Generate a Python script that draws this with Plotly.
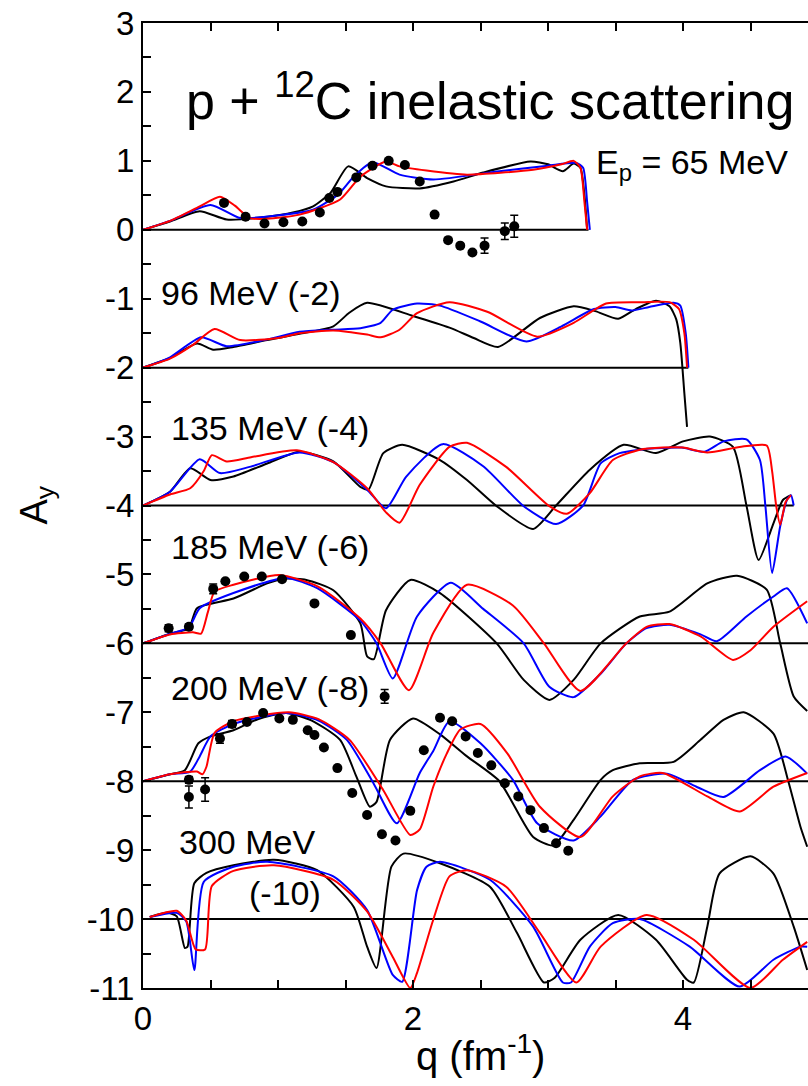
import plotly.graph_objects as go

# ---------------- data (values as plotted, including the offsets) ----------------
# 65 MeV (offset 0)
q65_k = [0, 0.2, 0.42, 0.62, 0.92, 1.11, 1.26, 1.39, 1.52, 1.66, 1.80, 2.05, 2.30, 2.52, 2.87, 3.00, 3.11, 3.19, 3.24, 3.27, 3.29]
a65_k = [0, 0.12, 0.27, 0.15, 0.19, 0.25, 0.34, 0.54, 0.92, 0.75, 0.63, 0.60, 0.70, 0.83, 0.99, 0.95, 0.85, 0.96, 0.90, 0.50, 0]
q65_b = [0, 0.2, 0.50, 0.72, 1.00, 1.26, 1.45, 1.56, 1.70, 1.90, 2.15, 2.64, 3.00, 3.21, 3.26, 3.29, 3.31]
a65_b = [0, 0.13, 0.36, 0.17, 0.21, 0.29, 0.52, 0.77, 0.98, 0.80, 0.73, 0.85, 0.93, 0.97, 0.90, 0.40, 0]
q65_r = [0, 0.2, 0.42, 0.57, 0.68, 0.79, 0.92, 1.16, 1.46, 1.61, 1.80, 1.90, 2.10, 2.40, 2.89, 3.10, 3.19, 3.24, 3.27, 3.29]
a65_r = [0, 0.13, 0.34, 0.48, 0.35, 0.17, 0.16, 0.22, 0.44, 0.77, 0.99, 0.92, 0.86, 0.80, 0.87, 0.95, 1.00, 0.90, 0.40, 0]
q65_d = [0.60, 0.76, 0.90, 1.04, 1.18, 1.31, 1.38, 1.44, 1.58, 1.70, 1.82, 1.94, 2.05, 2.16, 2.26, 2.35, 2.44, 2.53, 2.68, 2.75]
a65_d = [0.39, 0.19, 0.09, 0.11, 0.12, 0.25, 0.46, 0.55, 0.76, 0.93, 1.00, 0.94, 0.70, 0.22, -0.15, -0.23, -0.33, -0.23, -0.02, 0.05]
e65_d = [0, 0, 0, 0, 0, 0, 0, 0, 0, 0, 0, 0, 0, 0, 0, 0, 0, 0.11, 0.12, 0.16]

# 96 MeV (offset -2)
q96_k = [0, 0.2, 0.40, 0.52, 0.67, 0.92, 1.16, 1.41, 1.53, 1.66, 2.00, 2.27, 2.45, 2.63, 2.94, 3.19, 3.35, 3.52, 3.65, 3.80, 3.90, 3.95, 3.98, 4.01, 4.03]
a96_k = [-2, -1.86, -1.65, -1.74, -1.70, -1.60, -1.51, -1.40, -1.20, -1.06, -1.25, -1.42, -1.57, -1.70, -1.28, -1.11, -1.18, -1.29, -1.15, -1.03, -1.11, -1.30, -1.64, -2.37, -2.86]
q96_b = [0, 0.2, 0.43, 0.62, 0.90, 1.16, 1.40, 1.61, 1.76, 1.85, 2.03, 2.20, 2.50, 2.84, 3.10, 3.34, 3.50, 3.62, 3.75, 3.93, 3.98, 4.02, 4.04]
a96_b = [-2, -1.85, -1.56, -1.69, -1.60, -1.48, -1.45, -1.43, -1.35, -1.16, -1.07, -1.10, -1.33, -1.62, -1.40, -1.15, -1.12, -1.17, -1.12, -1.06, -1.10, -1.50, -2.0]
q96_r = [0, 0.2, 0.37, 0.53, 0.72, 1.00, 1.16, 1.41, 1.66, 1.76, 1.90, 2.03, 2.27, 2.55, 2.92, 3.19, 3.43, 3.70, 3.90, 3.97, 4.01, 4.03]
a96_r = [-2, -1.87, -1.67, -1.44, -1.60, -1.57, -1.50, -1.46, -1.52, -1.56, -1.45, -1.21, -1.05, -1.19, -1.55, -1.35, -1.07, -1.05, -1.05, -1.15, -1.50, -2.0]

# 135 MeV (offset -4)
q135_k = [0, 0.2, 0.35, 0.50, 0.67, 0.92, 1.16, 1.41, 1.61, 1.67, 1.78, 1.92, 2.20, 2.40, 2.62, 2.89, 3.06, 3.31, 3.56, 3.80, 4.00, 4.20, 4.37, 4.47, 4.56, 4.67, 4.74, 4.80]
a135_k = [-4, -3.80, -3.46, -3.63, -3.58, -3.39, -3.22, -3.36, -3.73, -3.77, -3.24, -3.12, -3.34, -3.63, -4.01, -4.34, -4.0, -3.48, -3.12, -3.24, -3.07, -3.0, -3.15, -4.0, -4.79, -4.26, -3.92, -3.85]
q135_b = [0, 0.2, 0.42, 0.57, 0.79, 1.16, 1.41, 1.66, 1.80, 1.95, 2.22, 2.52, 2.82, 3.06, 3.26, 3.39, 3.53, 3.68, 3.80, 3.99, 4.16, 4.30, 4.47, 4.57, 4.61, 4.66, 4.72, 4.77, 4.80, 4.82]
a135_b = [-4, -3.80, -3.33, -3.53, -3.44, -3.23, -3.37, -3.77, -4.04, -3.58, -3.11, -3.43, -4.01, -4.27, -4.0, -3.39, -3.24, -3.19, -3.17, -3.16, -3.22, -3.07, -3.04, -3.34, -4.0, -4.98, -4.30, -3.92, -3.85, -4.0]
q135_r = [0, 0.2, 0.35, 0.45, 0.51, 0.62, 0.80, 1.14, 1.41, 1.66, 1.80, 1.90, 2.05, 2.27, 2.40, 2.69, 3.01, 3.14, 3.31, 3.48, 3.68, 3.85, 4.00, 4.18, 4.42, 4.62, 4.66, 4.69, 4.72, 4.76, 4.80]
a135_r = [-4, -3.84, -3.75, -3.50, -3.27, -3.36, -3.30, -3.20, -3.37, -3.75, -4.10, -4.25, -3.70, -3.15, -3.09, -3.44, -4.01, -4.12, -3.82, -3.34, -3.19, -3.16, -3.16, -3.23, -3.15, -3.13, -3.50, -4.0, -4.28, -3.95, -3.85]

# 185 MeV (offset -6)
q185_k = [0, 0.2, 0.34, 0.40, 0.67, 0.92, 1.06, 1.21, 1.41, 1.61, 1.66, 1.71, 1.80, 1.98, 2.20, 2.62, 2.82, 3.01, 3.19, 3.39, 3.68, 3.90, 4.18, 4.40, 4.62, 4.72, 4.82, 4.92]
a185_k = [-6, -5.86, -5.78, -5.49, -5.35, -5.13, -5.06, -5.08, -5.23, -5.71, -6.19, -6.23, -5.52, -5.08, -5.27, -6.0, -6.53, -6.82, -6.53, -6.0, -5.61, -5.54, -5.13, -5.02, -5.22, -6.0, -6.77, -6.98]
q185_b = [0, 0.2, 0.34, 0.42, 0.67, 1.06, 1.29, 1.61, 1.73, 1.85, 2.03, 2.28, 2.52, 2.82, 3.01, 3.19, 3.39, 3.58, 3.73, 3.90, 4.13, 4.25, 4.47, 4.67, 4.77, 4.92]
a185_b = [-6, -5.86, -5.77, -5.49, -5.27, -5.05, -5.20, -5.67, -6.0, -6.51, -5.61, -5.12, -5.50, -6.0, -6.63, -6.78, -6.44, -6.0, -5.78, -5.73, -5.87, -5.97, -5.61, -5.32, -5.20, -5.71]
q185_r = [0, 0.2, 0.37, 0.43, 0.48, 0.53, 0.67, 1.01, 1.30, 1.61, 1.76, 1.97, 2.15, 2.40, 2.74, 2.97, 3.24, 3.58, 3.73, 3.90, 4.13, 4.37, 4.50, 4.67, 4.92]
a185_r = [-6, -5.87, -5.84, -5.86, -5.55, -5.25, -5.15, -5.01, -5.18, -5.64, -6.0, -6.68, -5.85, -5.15, -5.45, -6.0, -6.69, -6.0, -5.76, -5.72, -5.90, -6.24, -6.10, -5.76, -5.39]
q185_d = [0.19, 0.34, 0.52, 0.61, 0.75, 0.88, 1.03, 1.27, 1.54, 1.79]
a185_d = [-5.78, -5.76, -5.21, -5.10, -5.03, -5.03, -5.07, -5.42, -5.88, -6.77]
e185_d = [0.05, 0.04, 0.07, 0, 0, 0, 0, 0, 0, 0.10]

# 200 MeV (offset -8)
q200_k = [0, 0.2, 0.31, 0.41, 0.50, 0.67, 0.85, 1.06, 1.25, 1.46, 1.58, 1.68, 1.73, 1.83, 2.00, 2.20, 2.40, 2.64, 2.89, 3.04, 3.19, 3.39, 3.48, 3.68, 3.93, 4.13, 4.30, 4.45, 4.67, 4.78, 4.87, 4.92]
a200_k = [-8, -7.90, -7.84, -7.45, -7.35, -7.26, -7.10, -7.01, -7.12, -7.40, -7.93, -8.37, -8.30, -7.40, -7.09, -7.32, -7.64, -8.0, -8.81, -8.93, -8.56, -7.98, -7.84, -7.74, -7.72, -7.40, -7.11, -7.0, -7.31, -8.0, -8.66, -8.95]
q200_b = [0, 0.2, 0.35, 0.42, 0.50, 0.67, 1.06, 1.30, 1.51, 1.71, 1.88, 2.05, 2.15, 2.27, 2.50, 2.74, 2.92, 3.19, 3.39, 3.63, 3.88, 4.10, 4.30, 4.57, 4.76, 4.92]
a200_b = [-8, -7.90, -7.86, -7.64, -7.35, -7.17, -7.01, -7.12, -7.40, -8.04, -8.61, -7.88, -7.56, -7.13, -7.45, -7.98, -8.61, -8.86, -8.51, -7.98, -7.89, -8.08, -8.23, -7.84, -7.64, -7.89]
q200_r = [0, 0.2, 0.40, 0.44, 0.47, 0.53, 0.67, 1.08, 1.30, 1.53, 1.78, 1.98, 2.05, 2.15, 2.25, 2.35, 2.50, 2.70, 2.94, 3.24, 3.48, 3.68, 3.85, 4.18, 4.42, 4.67, 4.92]
a200_r = [-8, -7.90, -7.86, -7.90, -7.79, -7.30, -7.13, -7.0, -7.10, -7.40, -8.13, -8.78, -8.70, -8.08, -7.60, -7.25, -7.17, -7.60, -8.37, -8.81, -8.22, -7.93, -7.88, -8.22, -8.44, -8.08, -7.88]
q200_d = [0.34, 0.34, 0.46, 0.57, 0.66, 0.77, 0.89, 1.01, 1.11, 1.22, 1.27, 1.34, 1.44, 1.55, 1.66, 1.77, 1.87, 1.98, 2.08, 2.20, 2.29, 2.39, 2.48, 2.58, 2.68, 2.78, 2.87, 2.97, 3.06, 3.15]
a200_d = [-7.98, -8.23, -8.12, -7.38, -7.17, -7.14, -7.01, -7.09, -7.11, -7.26, -7.33, -7.51, -7.81, -8.17, -8.49, -8.77, -8.86, -8.43, -7.55, -7.08, -7.13, -7.35, -7.59, -7.77, -8.03, -8.22, -8.42, -8.68, -8.90, -9.01]
e200_d = [0.05, 0.16, 0.17, 0.07, 0.05] + [0] * 25

# 300 MeV (offset -10)
q300_k = [0.05, 0.18, 0.25, 0.31, 0.33, 0.38, 0.47, 0.67, 0.97, 1.29, 1.56, 1.66, 1.73, 1.84, 1.93, 2.20, 2.57, 2.77, 2.97, 3.05, 3.24, 3.52, 3.80, 4.03, 4.08, 4.18, 4.27, 4.50, 4.67, 4.82, 4.92]
a300_k = [-9.97, -9.91, -9.96, -10.42, -10.40, -9.48, -9.33, -9.22, -9.14, -9.29, -9.82, -10.40, -10.71, -9.24, -9.05, -9.19, -9.53, -10.20, -10.92, -10.85, -10.30, -9.94, -10.30, -10.88, -10.92, -10.11, -9.34, -9.09, -9.34, -10.11, -10.74]
q300_b = [0.05, 0.25, 0.32, 0.38, 0.45, 0.67, 0.92, 1.41, 1.66, 1.85, 1.92, 2.03, 2.10, 2.20, 2.57, 2.89, 3.11, 3.17, 3.31, 3.48, 3.68, 4.05, 4.42, 4.67, 4.87, 4.92]
a300_b = [-9.97, -9.91, -10.03, -10.74, -9.46, -9.24, -9.17, -9.38, -9.87, -10.81, -10.91, -9.58, -9.24, -9.17, -9.43, -10.11, -10.92, -10.92, -10.40, -10.06, -10.0, -10.40, -10.98, -10.59, -10.40, -10.40]
q300_r = [0.05, 0.25, 0.32, 0.39, 0.46, 0.51, 0.67, 0.97, 1.41, 1.66, 1.85, 1.98, 2.03, 2.15, 2.27, 2.40, 2.69, 2.94, 3.21, 3.39, 3.73, 4.08, 4.50, 4.74, 4.92]
a300_r = [-9.97, -9.88, -10.02, -10.44, -10.44, -9.52, -9.30, -9.22, -9.43, -9.89, -10.55, -11.0, -10.78, -10.01, -9.38, -9.29, -9.53, -10.20, -10.92, -10.40, -9.94, -10.30, -11.0, -10.59, -10.33]

# reference (zero) lines: offset and the q where each ends
base_offsets = [0, -2, -4, -6, -8, -10]
base_ends = [3.30, 4.04, 4.82, 4.93, 4.93, 4.93]

# panel labels: text, q, A
label_text = ["E<sub>p</sub> = 65 MeV", "96 MeV (-2)", "135 MeV (-4)", "185 MeV (-6)", "200 MeV (-8)", "300 MeV", "(-10)"]
label_q = [4.07, 0.80, 0.94, 0.94, 0.94, 0.77, 1.05]
label_a = [0.94, -0.91, -2.87, -4.60, -6.65, -8.88, -9.62]

x_tickvals = [0, 0.5, 1, 1.5, 2, 2.5, 3, 3.5, 4, 4.5]
x_ticktext = ["0", "", "", "", "2", "", "", "", "4", ""]
y_tickvals = [v / 2 for v in range(-22, 7)]
y_ticktext = [str(int(v)) if v == int(v) else "" for v in y_tickvals]

FONT = "Liberation Sans, Arial, sans-serif"
LW = 2

fig = go.Figure()

for off, qe in zip(base_offsets, base_ends):
    fig.add_trace(go.Scatter(x=[0, qe], y=[off, off], mode="lines",
                             line=dict(color="black", width=LW), hoverinfo="skip"))

curves = [
    (q65_k, a65_k, q65_b, a65_b, q65_r, a65_r),
    (q96_k, a96_k, q96_b, a96_b, q96_r, a96_r),
    (q135_k, a135_k, q135_b, a135_b, q135_r, a135_r),
    (q185_k, a185_k, q185_b, a185_b, q185_r, a185_r),
    (q200_k, a200_k, q200_b, a200_b, q200_r, a200_r),
    (q300_k, a300_k, q300_b, a300_b, q300_r, a300_r),
]
for qk, ak, qb, ab, qr, ar in curves:
    for qq, aa, col in ((qk, ak, "black"), (qb, ab, "#0000ff"), (qr, ar, "#ff0000")):
        fig.add_trace(go.Scatter(x=qq, y=aa, mode="lines",
                                 line=dict(color=col, width=LW, shape="spline", smoothing=0.6)))

for qd, ad, ed in ((q65_d, a65_d, e65_d), (q185_d, a185_d, e185_d), (q200_d, a200_d, e200_d)):
    fig.add_trace(go.Scatter(x=qd, y=ad, mode="markers",
                             marker=dict(color="black", size=10, symbol="circle"),
                             error_y=dict(type="data", array=ed, color="black", thickness=1.5, width=4)))

annotations = []
for t, xq, ya in zip(label_text, label_q, label_a):
    annotations.append(dict(x=xq, y=ya, xref="x", yref="y", text=t, showarrow=False,
                            font=dict(family=FONT, size=34, color="black")))
annotations.append(dict(x=2.57, y=1.93, xref="x", yref="y",
                        text="p + <sup>12</sup>C inelastic scattering", showarrow=False,
                        font=dict(family=FONT, size=52, color="black")))
annotations.append(dict(x=-0.2, y=0.5, xref="paper", yref="paper", text="A<sub>y</sub>",
                        textangle=-90, showarrow=False, font=dict(family=FONT, size=38, color="black")))
annotations.append(dict(x=0.507, y=-0.095, xref="paper", yref="paper", text="q (fm<sup>-1</sup>)",
                        showarrow=False, font=dict(family=FONT, size=40, color="black")))

fig.update_layout(
    width=808, height=1086,
    margin=dict(l=143, r=0, t=23, b=98),
    paper_bgcolor="white", plot_bgcolor="white",
    showlegend=False,
    annotations=annotations,
    font=dict(family=FONT, color="black"),
)
fig.update_xaxes(range=[0, 665 / 135], showgrid=False, zeroline=False,
                 showline=True, linecolor="black", linewidth=2, mirror="ticks",
                 ticks="inside", ticklen=8, tickwidth=1.5, tickcolor="black",
                 tickvals=x_tickvals, ticktext=x_ticktext,
                 tickfont=dict(family=FONT, size=33, color="black"))
fig.update_yaxes(range=[-11, 3], showgrid=False, zeroline=False,
                 showline=True, linecolor="black", linewidth=2,
                 ticks="inside", ticklen=8, tickwidth=1.5, tickcolor="black",
                 tickvals=y_tickvals, ticktext=y_ticktext,
                 tickfont=dict(family=FONT, size=33, color="black"))

fig.write_html("out.html")
